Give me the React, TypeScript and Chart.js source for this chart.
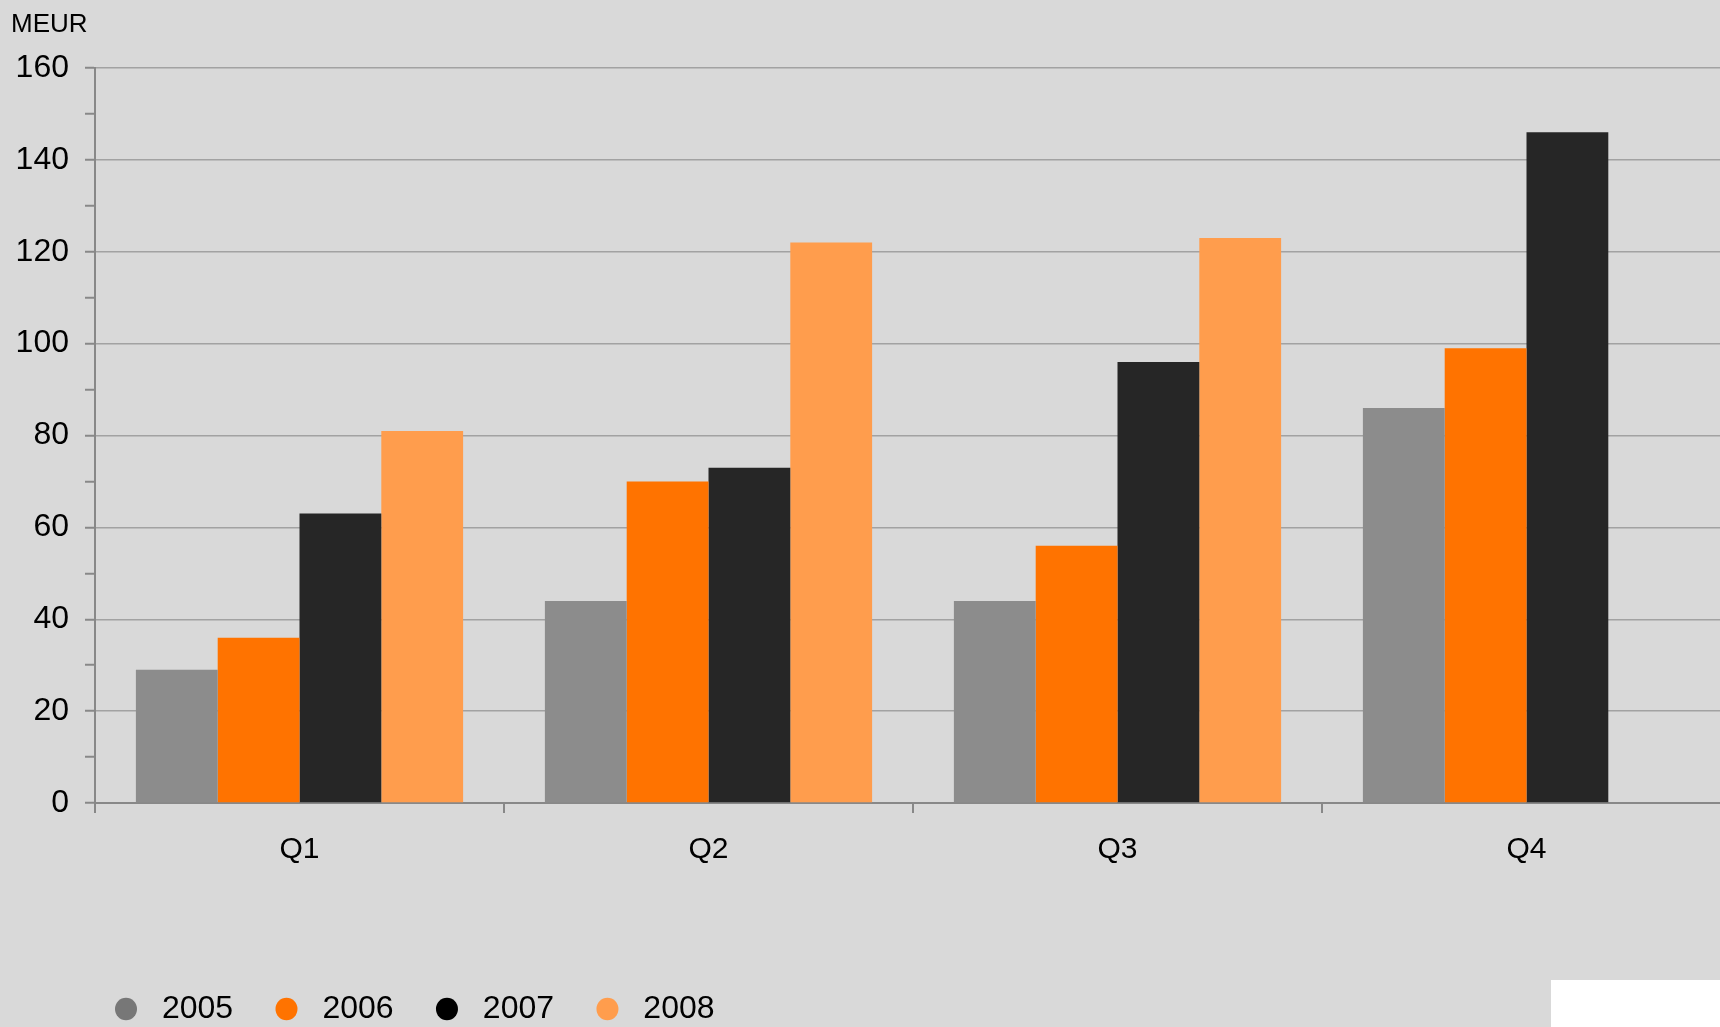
import { useEffect, useRef } from 'react';
import { Chart, registerables } from 'chart.js';

Chart.register(...registerables);

// ---- data ----
const categories = ['Q1', 'Q2', 'Q3', 'Q4'];
const seriesNames = ['2005', '2006', '2007', '2008'];
const values2005 = [29, 44, 44, 86];
const values2006 = [36, 70, 56, 99];
const values2007 = [63, 73, 96, 146];
const values2008: (number | null)[] = [81, 122, 123, null];
const barColors = ['#8c8c8c', '#ff7300', '#262626', '#ff9d4d'];
const legendColors = ['#777777', '#ff7300', '#000000', '#ff9d4d'];
const yMin = 0;
const yMax = 160;
const yMinorStep = 10;
const yLabelStep = 20;
const unitLabel = 'MEUR';

const FONT = '"Liberation Sans", Arial, Helvetica, sans-serif';

const decorPlugin = {
  id: 'decor',
  afterDraw(chart: any) {
    const ctx = chart.ctx as CanvasRenderingContext2D;
    ctx.save();
    ctx.font = `26px ${FONT}`;
    ctx.fillStyle = '#000000';
    ctx.textAlign = 'left';
    ctx.textBaseline = 'alphabetic';
    ctx.fillText(unitLabel, 11, 32);
    ctx.fillStyle = '#ffffff';
    ctx.fillRect(1551, 980, 300, 100);
    ctx.restore();
  },
};

export default function App() {
  const ref = useRef<HTMLCanvasElement>(null);

  useEffect(() => {
    const allValues = [values2005, values2006, values2007, values2008];
    const chart = new Chart(ref.current as HTMLCanvasElement, {
      type: 'bar',
      data: {
        labels: categories,
        datasets: seriesNames.map((name, i) => ({
          label: name,
          data: allValues[i] as any,
          backgroundColor: barColors[i],
          borderWidth: 0,
          barPercentage: 1.0,
          categoryPercentage: 0.8,
        })),
      },
      options: {
        animation: false,
        responsive: false,
        maintainAspectRatio: false,
        layout: { padding: { left: 0, top: 68, right: 29, bottom: 5 } },
        plugins: {
          tooltip: { enabled: false },
          title: { display: false },
          legend: {
            display: true,
            position: 'bottom',
            align: 'start',
            fullSize: false,
            labels: {
              usePointStyle: true,
              pointStyle: 'circle',
              pointStyleWidth: 22,
              boxHeight: 16,
              padding: 20,
              color: '#000000',
              font: { size: 32, family: FONT },
              generateLabels: (c: any) =>
                c.data.datasets.map((ds: any, i: number) => ({
                  text: ' ' + ds.label + '\u2002\u2009',
                  fillStyle: legendColors[i],
                  strokeStyle: legendColors[i],
                  lineWidth: 0,
                  pointStyle: 'circle',
                  hidden: false,
                  datasetIndex: i,
                  fontColor: '#000000',
                })),
            },
          },
        },
        scales: {
          x: {
            type: 'category',
            offset: true,
            grid: {
              offset: true,
              drawOnChartArea: false,
              drawTicks: true,
              tickLength: 10,
              color: '#888888',
              lineWidth: 2,
            },
            border: { display: true, color: '#888888', width: 2 },
            ticks: {
              padding: 19,
              color: '#000000',
              font: { size: 30, family: FONT },
              maxRotation: 0,
            },
            afterFit: (scale: any) => {
              scale.height = 170;
            },
          },
          y: {
            type: 'linear',
            min: yMin,
            max: yMax,
            grid: {
              color: (ctx: any) =>
                ctx.tick && ctx.tick.value % yLabelStep === 0 ? '#a2a2a2' : 'rgba(0,0,0,0)',
              lineWidth: 1.5,
              tickColor: '#888888',
              tickWidth: 2,
              tickLength: 10,
              drawTicks: true,
            },
            border: { display: true, color: '#888888', width: 2 },
            ticks: {
              stepSize: yMinorStep,
              autoSkip: false,
              padding: 16,
              color: '#000000',
              font: { size: 32, family: FONT },
              callback: (v: any) => (Number(v) % yLabelStep === 0 ? String(v) : ''),
            },
            afterFit: (scale: any) => {
              scale.width = 95;
            },
          },
        },
      },
      plugins: [decorPlugin],
    } as any);
    return () => chart.destroy();
  }, []);

  return (
    <div
      style={{
        position: 'fixed',
        left: 0,
        top: 0,
        width: 1720,
        height: 1027,
        overflow: 'hidden',
        background: '#d9d9d9',
      }}
    >
      <canvas ref={ref} width={1760} height={1040} style={{ display: 'block' }} />
    </div>
  );
}
